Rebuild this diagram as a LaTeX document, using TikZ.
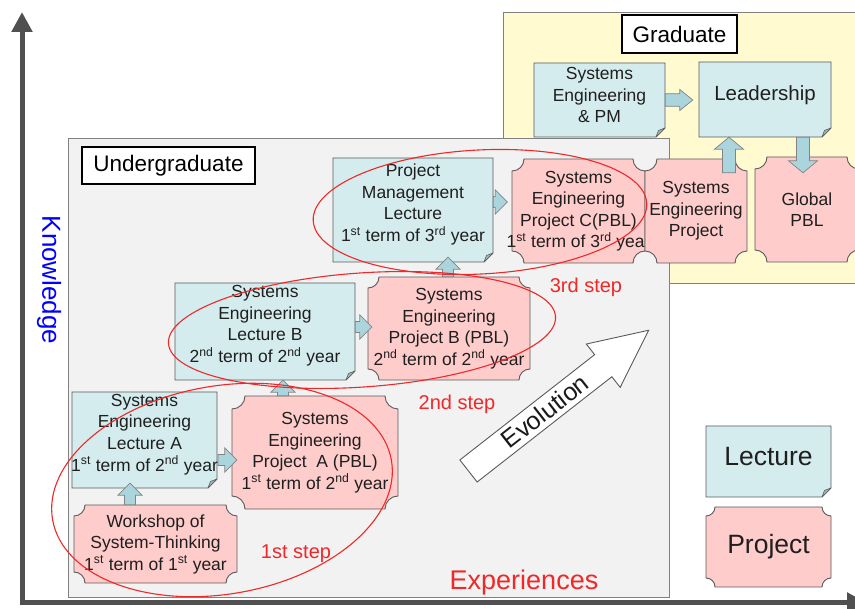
\documentclass[tikz,border=0pt]{standalone}
\usepackage{fontspec}
\setmainfont{Liberation Sans}
\usetikzlibrary{calc,arrows.meta}

\definecolor{lecfill}{RGB}{213,236,238}
\definecolor{projfill}{RGB}{255,204,204}
\definecolor{arrfill}{RGB}{170,213,221}
\definecolor{edge}{RGB}{90,90,90}
\definecolor{ugfill}{RGB}{242,242,242}
\definecolor{ugedge}{RGB}{128,128,128}
\definecolor{gradfill}{RGB}{255,250,208}
\definecolor{stepred}{RGB}{240,40,40}
\definecolor{axisgray}{RGB}{80,80,80}
\definecolor{foldfill}{RGB}{165,185,188}

\newcommand\boxfont{\fontsize{17.5}{21.5}\selectfont}
\newcommand\ltx[2]{\raisebox{#1}[\height][\depth]{\begin{tabular}{@{}c@{}}#2\end{tabular}}}
\newcommand\sups[1]{\textsuperscript{#1}}

\tikzset{
  lecpath/.style={fill=lecfill, draw=edge, line width=0.9pt, line join=miter},
  foldpath/.style={fill=foldfill, draw=edge, line width=0.6pt, line join=round},
  projpath/.style={fill=projfill, draw=edge, line width=0.9pt},
  box/.style 2 args={minimum width=#1pt, minimum height=#2pt, inner sep=0pt, align=center, font=\boxfont, text=black!88},
  barrow/.style={fill=arrfill, draw=edge!75, line width=0.7pt, line join=miter},
  labelbox/.style={draw=black, line width=2pt, fill=white, inner sep=0pt, font=\fontsize{22.5}{26}\selectfont},
  stepell/.style={draw=stepred, line width=1.1pt},
  steplabel/.style={text=stepred, font=\fontsize{20}{24}\selectfont},
  axisline/.style={draw=axisgray, line width=5pt, line join=miter, {Triangle[width=20pt,length=20pt]}-{Triangle[width=20pt,length=20pt]}},
}

% lecture box: [node opts]{name}{cx}{cy}{w}{h}{text}
\newcommand\lecbox[7][]{%
  \pgfmathsetmacro\bxa{#3-#5/2}\pgfmathsetmacro\bxb{#3+#5/2}%
  \pgfmathsetmacro\bya{#4-#6/2}\pgfmathsetmacro\byb{#4+#6/2}%
  \path[lecpath] (\bxa,\bya) -- (\bxb-9,\bya) -- (\bxb,\bya+9) -- (\bxb,\byb) -- (\bxa,\byb) -- cycle;
  \path[foldpath] (\bxb-9,\bya) -- (\bxb,\bya+9) -- (\bxb-6.5,\bya+6.5) -- cycle;
  \node[box={#5}{#6},#1] (#2) at (#3,#4) {#7};
}
% project box: [node opts]{name}{cx}{cy}{w}{h}{r}{text}
\newcommand\projbox[8][]{%
  \pgfmathsetmacro\bxa{#3-#5/2}\pgfmathsetmacro\bxb{#3+#5/2}%
  \pgfmathsetmacro\bya{#4-#6/2}\pgfmathsetmacro\byb{#4+#6/2}%
  \path[projpath] (\bxa+#7,\bya) -- (\bxb-#7,\bya) arc[start angle=180,end angle=90,radius=#7]
     -- (\bxb,\byb-#7) arc[start angle=270,end angle=180,radius=#7]
     -- (\bxa+#7,\byb) arc[start angle=0,end angle=-90,radius=#7]
     -- (\bxa,\bya+#7) arc[start angle=90,end angle=0,radius=#7] -- cycle;
  \node[box={#5}{#6},#1] (#2) at (#3,#4) {#8};
}
\def\aw{5.5pt}\def\ah{12pt}\def\al{12pt}
\newcommand\arrR[2]{\path[barrow] let \p1=(#1), \p2=(#2) in
  (\x1,\y1+\aw) -- (\x2-\al,\y1+\aw) -- (\x2-\al,\y1+\ah) -- (\x2,\y1) -- (\x2-\al,\y1-\ah) -- (\x2-\al,\y1-\aw) -- (\x1,\y1-\aw) -- cycle;}
\newcommand\arrU[2]{\path[barrow] let \p1=(#1), \p2=(#2) in
  (\x1-\aw,\y1) -- (\x1-\aw,\y2-\al) -- (\x1-\ah,\y2-\al) -- (\x1,\y2) -- (\x1+\ah,\y2-\al) -- (\x1+\aw,\y2-\al) -- (\x1+\aw,\y1) -- cycle;}
\newcommand\arrD[2]{\path[barrow] let \p1=(#1), \p2=(#2) in
  (\x1-\aw,\y1) -- (\x1-\aw,\y2+\al) -- (\x1-\ah,\y2+\al) -- (\x1,\y2) -- (\x1+\ah,\y2+\al) -- (\x1+\aw,\y2+\al) -- (\x1+\aw,\y1) -- cycle;}

\begin{document}
\begin{tikzpicture}[x=1pt,y=1pt]
\useasboundingbox (0,0) rectangle (855,609);

% graduate region
\path[fill=gradfill, draw=ugedge, line width=0.9pt] (503,326) rectangle (880,597);
\lecbox{sepm}{599.5}{509}{131}{74}{\ltx{3pt}{Systems\\Engineering\\\& PM}}
\lecbox[font=\fontsize{20.5}{24}\selectfont]{lead}{765}{509.5}{132}{75}{\ltx{3.5pt}{Leadership}}

% undergraduate region
\path[fill=ugfill, draw=ugedge, line width=0.9pt] (68,12) rectangle (669,471);

\lecbox{pml}{413}{399}{160}{104}{\ltx{5pt}{Project\\Management\\Lecture\\1\sups{st} term of 3\sups{rd} year}}
\projbox{pc}{578.5}{398}{133}{104}{12}{Systems\\Engineering\\Project C(PBL)\\1\sups{st} term of 3\sups{rd} year}
\projbox{sep}{696}{398}{102}{104}{12}{Systems\\Engineering\\Project}
\projbox{gpbl}{807}{399.5}{104}{105}{12}{Global\\PBL}
\lecbox{leb}{265}{277.5}{180}{97}{\ltx{5.5pt}{Systems\\Engineering\\Lecture B\\2\sups{nd} term of 2\sups{nd} year}}
\projbox{pb}{449}{280.5}{162}{103}{11}{Systems\\Engineering\\Project B (PBL)\\2\sups{nd} term of 2\sups{nd} year}
\lecbox{lea}{144.5}{169}{145}{96}{\ltx{5.5pt}{Systems\\Engineering\\Lecture A\\1\sups{st} term of 2\sups{nd} year}}
\projbox{pa}{315}{156.5}{166}{113}{13}{Systems\\Engineering\\Project\ \ A (PBL)\\1\sups{st} term of 2\sups{nd} year}
\projbox{ws}{155.5}{65}{163}{78}{11}{Workshop of\\System-Thinking\\1\sups{st} term of 1\sups{st} year}

% legend
\lecbox[font=\fontsize{26.5}{30}\selectfont]{legL}{768.5}{147.5}{125}{71}{\ltx{1.5pt}{Lecture}}
\projbox[font=\fontsize{26.5}{30}\selectfont]{legP}{768.5}{62}{125}{80}{9}{Project}

% block arrows
\def\aw{6.3pt}\def\ah{10.5pt}\def\al{13pt}
\arrR{sepm.east}{$(lead.west)+(-6,0)$}
\def\aw{6.5pt}\def\ah{14.5pt}\def\al{12pt}
\arrU{$(sep.north)+(33,-14)$}{lead.south}
\arrD{$(lead.south)+(38,0)$}{$(gpbl.north)+(0,-16)$}
\def\aw{5.5pt}\def\ah{12pt}\def\al{12pt}
\arrR{$(pml.east)+(0,8)$}{$(pc.west)+(1,0)$}
\arrU{$(pb.north)+(-1,0)$}{$(pml.south)+(0,5)$}
\arrR{$(leb.east)+(0,4.5)$}{$(pb.west)+(4,0)$}
\arrU{$(pa.north)+(-32,0)$}{leb.south}
\arrR{$(lea.east)+(0,-20)$}{$(pa.west)+(5,0)$}
\arrU{$(ws.north)+(-25.5,0)$}{$(lea.south)+(0,5)$}

% labels of regions
\node[labelbox, minimum width=115pt, minimum height=38pt] (gradlab) at (679.5,575) {Graduate};
\node[labelbox, minimum width=173pt, minimum height=37pt] (uglab) at (168.5,443.5) {Undergraduate};

% evolution arrow
\begin{scope}[shift={(468.5,138)}, rotate=38]
  \path[fill=white, draw=edge, line width=0.9pt, line join=miter]
    (0,-14) -- (171,-14) -- (171,-27.5) -- (228.6,0) -- (171,27.5) -- (171,14) -- (0,14) -- cycle;
  \node[rotate=38, font=\fontsize{25}{28}\selectfont, text=black!90] (evo) at (97,0) {Evolution};
\end{scope}

% step ellipses
\draw[stepell, rotate around={3:(480,397)}] (480,397) ellipse[x radius=167, y radius=62];
\draw[stepell, rotate around={4:(362,279)}] (362,279) ellipse[x radius=194, y radius=57];
\draw[stepell, rotate around={10:(222,119)}] (222,119) ellipse[x radius=172, y radius=104];

\node[steplabel] (s3) at (586,322) {3rd step};
\node[steplabel] (s2) at (457,205) {2nd step};
\node[steplabel] (s1) at (296,55) {1st step};

% axes
\coordinate (origin) at (22,6);
\coordinate (ytop) at (22,597);
\coordinate (xend) at (867,6);
\draw[axisline] (ytop) -- (origin) -- (xend);

\node[rotate=-90, text=blue, font=\fontsize{26}{30}\selectfont] (know) at (49,329) {Knowledge};
\node[text=stepred, font=\fontsize{27}{31}\selectfont] (exp) at (524,26) {Experiences};
\end{tikzpicture}
\end{document}
